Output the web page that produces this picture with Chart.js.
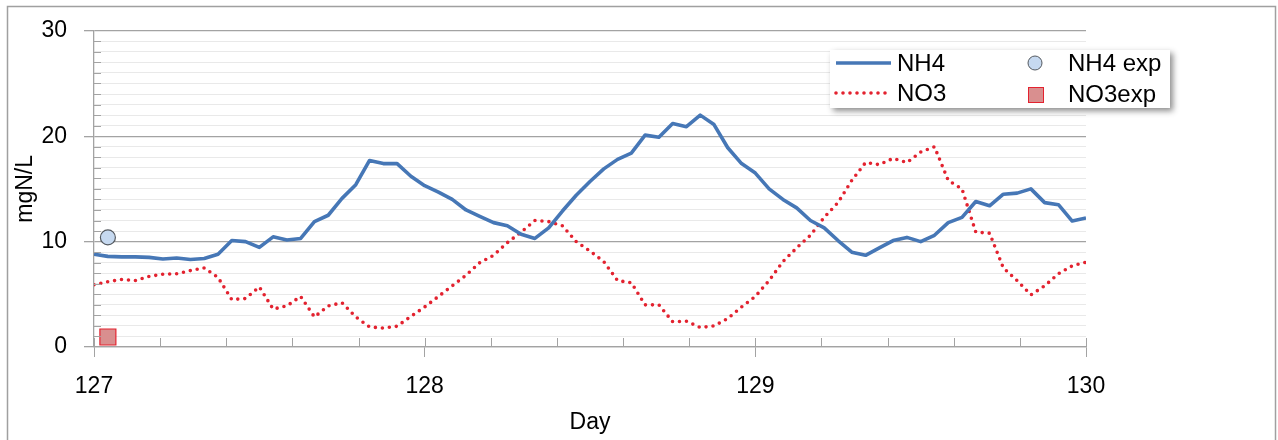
<!DOCTYPE html>
<html>
<head>
<meta charset="UTF-8">
<title>NH4 / NO3</title>
<script src="https://cdn.jsdelivr.net/npm/chart.js@4.4.0/dist/chart.umd.min.js"></script>
<style>
  html, body { margin: 0; padding: 0; background: #fff; }
  #wrap { width: 1278px; height: 440px; }
</style>
</head>
<body>
<div id="wrap"><canvas id="chart" width="1278" height="440"></canvas></div>
<script>
// simulated series, hourly from day 127 to day 130
const startDay = 127;
const stepDay = 1 / 24;
const nh4 = [8.8, 8.6, 8.55, 8.55, 8.5, 8.35, 8.45, 8.3, 8.4, 8.8,
  10.1, 10.0, 9.45, 10.45, 10.15, 10.3, 11.9, 12.5, 14.1, 15.4,
  17.7, 17.4, 17.4, 16.2, 15.3, 14.7, 14.0, 13.0, 12.4, 11.8,
  11.5, 10.7, 10.3, 11.3, 12.9, 14.4, 15.7, 16.9, 17.8, 18.4,
  20.1, 19.9, 21.2, 20.9, 22.0, 21.1, 18.9, 17.4, 16.5, 15.0,
  14.0, 13.2, 12.0, 11.3, 10.1, 9.0, 8.7, 9.4, 10.1, 10.4,
  10.0, 10.6, 11.8, 12.3, 13.8, 13.4, 14.5, 14.6, 15.0, 13.7,
  13.5, 11.95, 12.25];
const no3 = [5.9, 6.2, 6.4, 6.3, 6.7, 6.9, 6.95, 7.25, 7.5, 6.6,
  4.5, 4.6, 5.7, 3.6, 3.9, 4.8, 2.85, 3.9, 4.2, 2.85,
  1.9, 1.8, 1.97, 2.9, 3.8, 4.8, 5.8, 6.8, 8.0, 8.7,
  9.9, 10.9, 12.0, 11.9, 11.5, 10.0, 9.1, 8.1, 6.3, 6.1,
  4.0, 4.0, 2.4, 2.45, 1.85, 2.0, 2.7, 3.8, 4.8, 6.3,
  8.1, 9.4, 10.6, 12.3, 13.7, 15.8, 17.5, 17.3, 17.9, 17.5,
  18.5, 19.0, 15.8, 15.0, 10.9, 10.8, 7.5, 6.3, 4.95, 5.8,
  6.95, 7.7, 8.05];
// measured values
const expDays = [127.042];
const nh4Exp = [10.4];
const no3Exp = [0.95];

const xMin = 127, xMax = 130;
const yMin = 0, yMax = 30;

const toPts = (vals) => vals.map((v, i) => ({ x: startDay + i * stepDay, y: v }));
const expPts = (vals) => vals.map((v, i) => ({ x: expDays[i], y: v }));

const FONT = "'Liberation Sans', Arial, sans-serif";
const axisGray = '#a3a3a3';

// outer frame
const framePlugin = {
  id: 'frame',
  beforeDraw(chart) {
    const ctx = chart.ctx;
    ctx.save();
    ctx.strokeStyle = '#a0a0a0';
    ctx.lineWidth = 1.5;
    ctx.strokeRect(7.5, 6.5, 1268, 500);
    ctx.restore();
  }
};

// inner tick marks (minor y ticks inside, x ticks pointing up)
const innerTicks = {
  id: 'innerTicks',
  afterDraw(chart) {
    const ctx = chart.ctx, a = chart.chartArea;
    const xs = chart.scales.x, ys = chart.scales.y;
    ctx.save();
    ctx.strokeStyle = axisGray;
    ctx.lineWidth = 1;
    ctx.beginPath();
    ys.ticks.forEach(t => {
      if (t.value % 10 === 0) return;
      const y = Math.round(ys.getPixelForValue(t.value)) + 0.5;
      ctx.moveTo(a.left, y); ctx.lineTo(a.left + 7, y);
    });
    xs.ticks.forEach(t => {
      const x = Math.round(xs.getPixelForValue(t.value)) + 0.5;
      ctx.moveTo(x, a.bottom); ctx.lineTo(x, a.bottom - 9);
    });
    ctx.stroke();
    ctx.restore();
  }
};

// legend box inside the plot
const boxLegend = {
  id: 'boxLegend',
  afterDraw(chart) {
    const ctx = chart.ctx;
    const ds = chart.data.datasets;
    const bx = 830, by = 50, bw = 340, bh = 58;
    ctx.save();
    ctx.shadowColor = 'rgba(0,0,0,0.45)';
    ctx.shadowBlur = 6;
    ctx.shadowOffsetX = 3;
    ctx.shadowOffsetY = 3;
    ctx.fillStyle = '#fff';
    ctx.fillRect(bx, by, bw, bh);
    ctx.restore();

    ctx.save();
    ctx.font = '24px ' + FONT;
    ctx.fillStyle = '#000';
    ctx.textBaseline = 'middle';
    const rows = [63, 93];
    // line entries
    [0, 1].forEach(i => {
      const d = ds[i], y = rows[i];
      ctx.save();
      ctx.strokeStyle = d.borderColor;
      ctx.lineWidth = d.borderWidth;
      ctx.lineCap = d.borderCapStyle || 'butt';
      ctx.setLineDash(d.borderDash || []);
      ctx.beginPath();
      ctx.moveTo(836, y); ctx.lineTo(891, y);
      ctx.stroke();
      ctx.restore();
      ctx.fillText(d.label, 897, y + 1);
    });
    // marker entries
    const c = ds[2];
    ctx.beginPath();
    ctx.arc(1035, 63, 7, 0, Math.PI * 2);
    ctx.fillStyle = c.backgroundColor; ctx.fill();
    ctx.strokeStyle = c.borderColor; ctx.lineWidth = 1; ctx.stroke();
    const s = ds[3];
    ctx.fillStyle = s.backgroundColor;
    ctx.fillRect(1028, 87, 16, 16);
    ctx.strokeStyle = s.borderColor; ctx.lineWidth = 1;
    ctx.strokeRect(1028.5, 87.5, 15, 15);
    ctx.fillStyle = '#000';
    ctx.fillText(c.label, 1068, 63 + 1);
    ctx.fillText(s.label, 1068, 94 + 1);
    ctx.restore();
  }
};

new Chart(document.getElementById('chart'), {
  type: 'line',
  data: {
    datasets: [
      { label: 'NH4', data: toPts(nh4), borderColor: '#4677b6', borderWidth: 3.6,
        pointRadius: 0, tension: 0, borderJoinStyle: 'round', order: 2 },
      { label: 'NO3', data: toPts(no3), borderColor: '#e3222f', borderWidth: 3.6,
        borderDash: [0, 7], borderCapStyle: 'round', pointRadius: 0, tension: 0, order: 3 },
      { label: 'NH4 exp', data: expPts(nh4Exp), showLine: false, pointStyle: 'circle',
        pointRadius: 7.5, backgroundColor: '#c6d9f0', borderColor: '#555a60', pointBorderWidth: 1.2, order: 1 },
      { label: 'NO3exp', data: expPts(no3Exp), showLine: false, pointStyle: 'rect',
        pointRadius: 11.3, backgroundColor: '#d98f8f', borderColor: '#e3222f', pointBorderWidth: 1.2, order: 1 }
    ]
  },
  options: {
    responsive: false,
    animation: false,
    layout: { padding: { left: 0, right: 192, top: 28, bottom: 0 } },
    plugins: { legend: { display: false }, tooltip: { enabled: false } },
    scales: {
      x: {
        type: 'linear', min: xMin, max: xMax,
        afterFit: s => { s.height = 93; },
        ticks: {
          stepSize: 0.2, autoSkip: false, maxRotation: 0, padding: 16,
          color: '#000', font: { family: FONT, size: 23 },
          callback: v => Math.abs(v - Math.round(v)) < 1e-6 ? String(Math.round(v)) : ''
        },
        grid: {
          drawOnChartArea: false, tickLength: 10,
          tickColor: c => Math.abs(c.tick.value - Math.round(c.tick.value)) < 1e-6 ? axisGray : 'rgba(0,0,0,0)'
        },
        border: { display: true, color: axisGray, width: 1.3 },
        title: { display: true, text: 'Day', color: '#000',
          font: { family: FONT, size: 23 }, padding: { top: 0, bottom: 4 } }
      },
      y: {
        min: yMin, max: yMax,
        afterFit: s => { s.width = 94; },
        ticks: {
          stepSize: 1, autoSkip: false, padding: 17, color: '#000',
          font: { family: FONT, size: 23 },
          callback: v => v % 10 === 0 ? String(v) : ''
        },
        grid: {
          tickLength: 10,
          color: c => c.tick.value % 10 === 0 ? axisGray : '#e9e9e9',
          lineWidth: c => c.tick.value % 10 === 0 ? 1.3 : 1,
          tickColor: c => c.tick.value % 10 === 0 ? axisGray : 'rgba(0,0,0,0)'
        },
        border: { display: true, color: axisGray, width: 1.3 },
        title: { display: true, text: 'mgN/L', color: '#000',
          font: { family: FONT, size: 23 }, padding: { top: 12, bottom: 0 } }
      }
    }
  },
  plugins: [framePlugin, innerTicks, boxLegend]
});
</script>
</body>
</html>
